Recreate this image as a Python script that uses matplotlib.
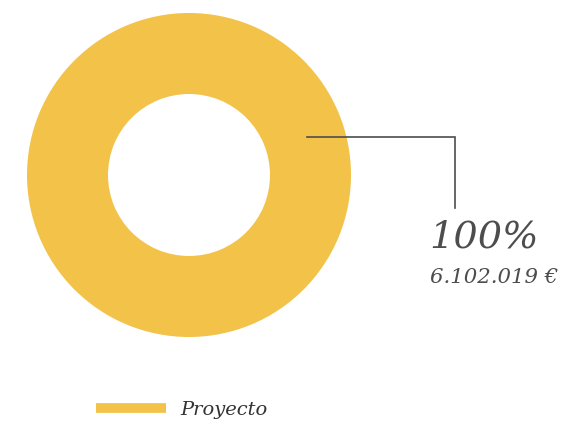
import matplotlib
matplotlib.use("Agg")
import matplotlib.pyplot as plt

categories = ["Proyecto"]
values = [6102019]
percent_labels = ["100%"]
amount_labels = ["6.102.019 €"]
colors = ["#F2C249"]

W, H = 573, 422
fig = plt.figure(figsize=(W / 100, H / 100), dpi=100)
ax = fig.add_axes([0, 0, 1, 1])

wedges, _ = ax.pie(values, colors=colors, center=(189, 175), radius=162,
                   startangle=90, counterclock=False,
                   wedgeprops=dict(width=81, edgecolor="none"), frame=True)
ax.set_xlim(0, W)
ax.set_ylim(H, 0)
ax.set_aspect("equal")
ax.axis("off")

gray = "#4d4d4d"
ax.plot([307, 455, 455], [137, 137, 208], color=gray, lw=1.2, solid_joinstyle="miter")

ax.text(429, 247, percent_labels[0], fontsize=27.5, family="DejaVu Serif",
        style="italic", color=gray, va="baseline", ha="left")
ax.text(430, 283, amount_labels[0], fontsize=15.3, family="DejaVu Serif",
        style="italic", color=gray, va="baseline", ha="left")

ax.plot([96, 166], [408, 408], color=colors[0], lw=7, solid_capstyle="butt")
ax.text(180, 415, categories[0], fontsize=14, family="DejaVu Serif",
        style="italic", color="#333333", va="baseline", ha="left")

fig.savefig("out.png", dpi=100)
